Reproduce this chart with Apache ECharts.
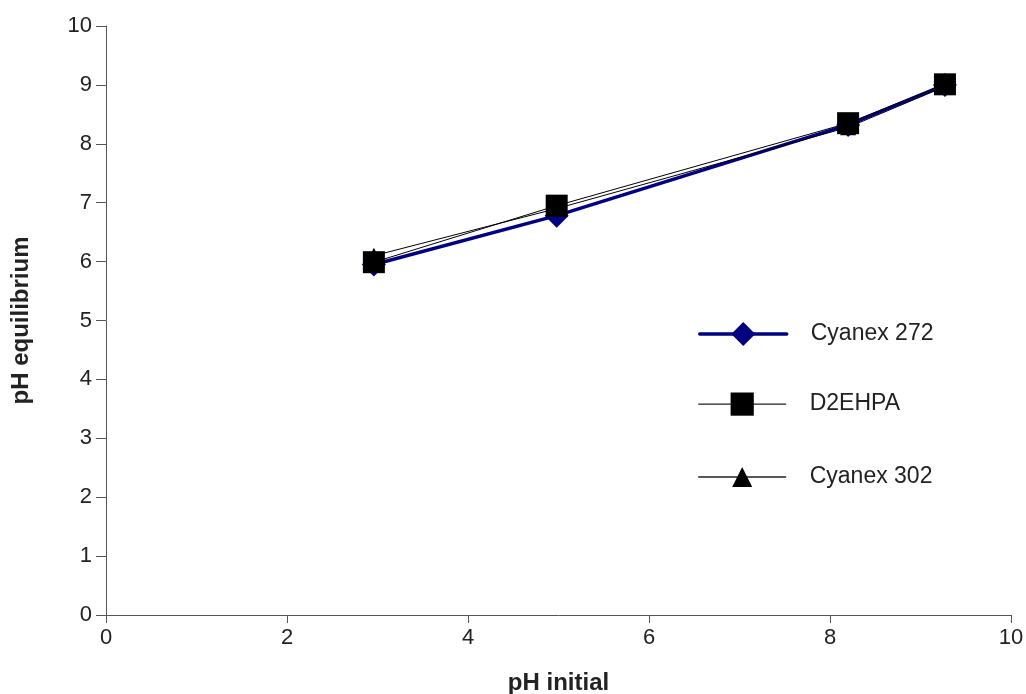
<!DOCTYPE html>
<html><head><meta charset="utf-8">
<script src="https://cdn.jsdelivr.net/npm/echarts@6/dist/echarts.min.js"></script>
<style>html,body{margin:0;padding:0;background:#fff}#c{width:1026px;height:694px}</style>
</head><body><div id="c"></div>
<script>
const phInitial = [2.96, 4.98, 8.2, 9.27];
const cyanex272 = [5.95, 6.78, 8.32, 9.0];
const d2ehpa = [5.99, 6.95, 8.35, 9.01];
const cyanex302 = [6.1, 6.9, 8.28, 8.97];
const seriesNames = ['Cyanex 272', 'D2EHPA', 'Cyanex 302'];
const xTicks = [0, 2, 4, 6, 8, 10];
const yTicks = [0, 1, 2, 3, 4, 5, 6, 7, 8, 9, 10];

const pairs = ys => phInitial.map((x, i) => [x, ys[i]]);
const font = 'Liberation Sans, Arial, sans-serif';

function legendFor(name, top, h, lineColor, lineWidth) {
  return {
    data: [{name: name, lineStyle: {color: lineColor, width: lineWidth, cap: 'round'}}],
    orient: 'vertical', left: 693, top: top,
    itemWidth: 87, itemHeight: h,
    selectedMode: false,
    textStyle: {fontFamily: font, fontSize: 23, color: '#222', padding: [0, 0, 0, 19]}
  };
}

const chart = echarts.init(document.getElementById('c'));
chart.setOption({
  animation: false,
  backgroundColor: '#fff',
  grid: {left: 106, right: 15, top: 26, bottom: 79, containLabel: false, outerBoundsMode: 'none'},
  legend: [
    legendFor(seriesNames[0], 317, 30, '#000080', 3.5),
    legendFor(seriesNames[1], 387.5, 29, '#222', 1.4),
    legendFor(seriesNames[2], 460.5, 25, '#222', 1.4)
  ],
  xAxis: {
    type: 'value', min: xTicks[0], max: xTicks[xTicks.length - 1], interval: 2,
    name: 'pH initial', nameLocation: 'middle', nameGap: 56,
    nameTextStyle: {fontFamily: font, fontSize: 24, fontWeight: 'bold', color: '#222'},
    axisLine: {show: true, lineStyle: {color: '#555', width: 1}},
    axisTick: {show: true, inside: false, length: 8, lineStyle: {color: '#555'}},
    axisLabel: {fontFamily: font, fontSize: 22, color: '#222', margin: 12},
    splitLine: {show: false}
  },
  yAxis: {
    type: 'value', min: yTicks[0], max: yTicks[yTicks.length - 1], interval: 1,
    name: 'pH equilibrium', nameLocation: 'middle', nameGap: 73,
    nameTextStyle: {fontFamily: font, fontSize: 24, fontWeight: 'bold', color: '#222'},
    axisLine: {show: true, lineStyle: {color: '#555', width: 1}},
    axisTick: {show: true, inside: false, length: 10, lineStyle: {color: '#555'}},
    axisLabel: {fontFamily: font, fontSize: 22, color: '#222', margin: 14},
    splitLine: {show: false}
  },
  series: [
    {name: 'Cyanex 272', type: 'line', data: pairs(cyanex272), z: 2,
     symbol: 'diamond', symbolSize: 24,
     lineStyle: {color: '#000080', width: 3.5}, itemStyle: {color: '#000080'}},
    {name: 'Cyanex 302', type: 'line', data: pairs(cyanex302), z: 3,
     symbol: 'triangle', symbolSize: 16,
     lineStyle: {color: '#000', width: 1}, itemStyle: {color: '#000'}},
    {name: 'D2EHPA', type: 'line', data: pairs(d2ehpa), z: 4,
     symbol: 'rect', symbolSize: 22,
     lineStyle: {color: '#000', width: 1}, itemStyle: {color: '#000'}}
  ]
});
</script></body></html>
